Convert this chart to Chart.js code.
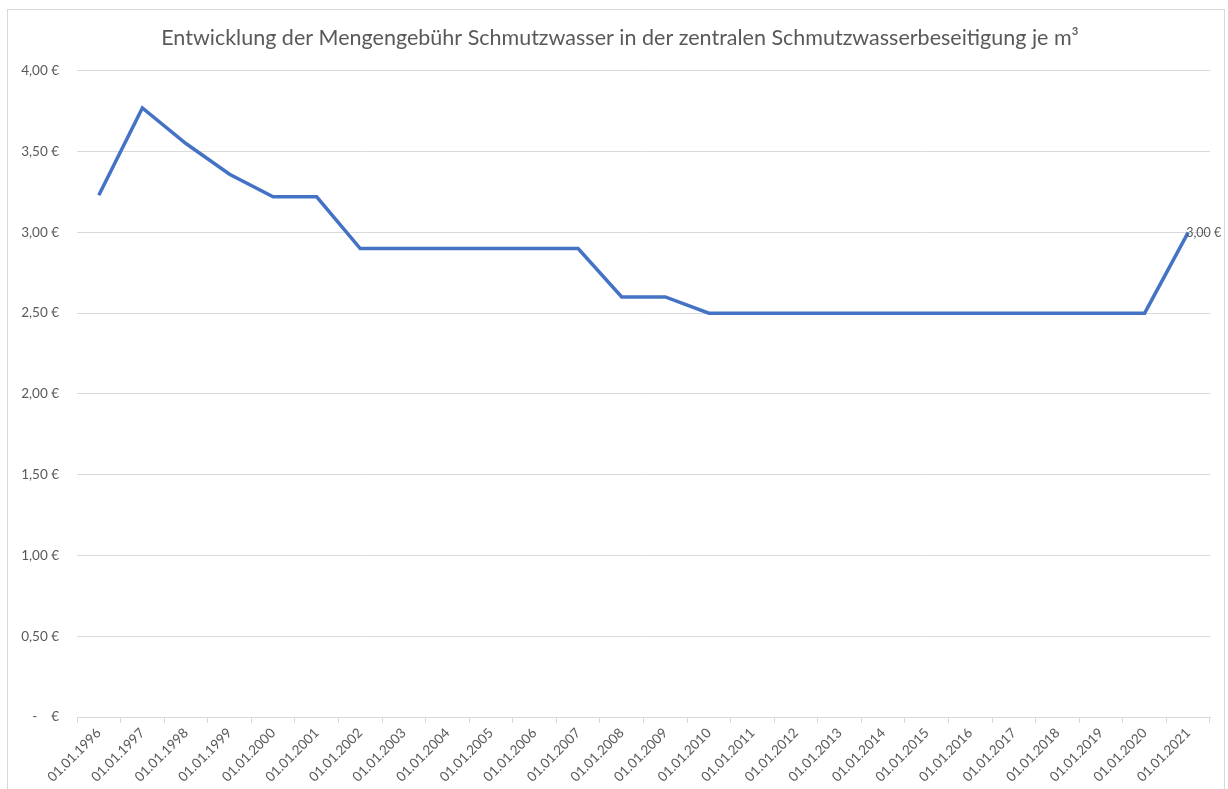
<!DOCTYPE html>
<html>
<head>
<meta charset="utf-8">
<script src="https://cdn.jsdelivr.net/npm/chart.js@4"></script>
<style>
  html, body { margin: 0; padding: 0; background: #fff; overflow: hidden; }
  #wrap { position: relative; width: 1228px; height: 789px; }
  #frame { position: absolute; left: 7px; top: 9px; width: 1218px; height: 800px; border: 1px solid #d9d9d9; box-sizing: border-box; }
  canvas { position: absolute; left: 0; top: 0; }
</style>
</head>
<body>
<div id="wrap">
  <div id="frame"></div>
  <canvas id="chart" width="1228" height="789"></canvas>
</div>
<script>
const years = [
  "01.01.1996", "01.01.1997", "01.01.1998", "01.01.1999", "01.01.2000",
  "01.01.2001", "01.01.2002", "01.01.2003", "01.01.2004", "01.01.2005",
  "01.01.2006", "01.01.2007", "01.01.2008", "01.01.2009", "01.01.2010",
  "01.01.2011", "01.01.2012", "01.01.2013", "01.01.2014", "01.01.2015",
  "01.01.2016", "01.01.2017", "01.01.2018", "01.01.2019", "01.01.2020",
  "01.01.2021",
];
const fee = [
  3.23, 3.77, 3.55, 3.36, 3.22,
  3.22, 2.90, 2.90, 2.90, 2.90,
  2.90, 2.90, 2.60, 2.60, 2.50,
  2.50, 2.50, 2.50, 2.50, 2.50,
  2.50, 2.50, 2.50, 2.50, 2.50,
  3.00,
];
const labelledIndex = [25];

const txt = "#595959";
const fontName = "Lato, 'Open Sans', sans-serif";

function euro(v) {
  if (v === 0) return "-    €";
  return v.toFixed(2).replace(".", ",") + " €";
}

// label at the last point, like the excel data label
const pointLabel = {
  id: "pointLabel",
  afterDatasetsDraw(chart) {
    const meta = chart.getDatasetMeta(0);
    const ctx = chart.ctx;
    ctx.save();
    ctx.font = "12.5px " + fontName;
    ctx.fillStyle = txt;
    ctx.textAlign = "left";
    ctx.textBaseline = "middle";
    labelledIndex.forEach((i) => {
      const p = meta.data[i];
      ctx.fillText(euro(fee[i]), p.x - 2, p.y + 1);
    });
    ctx.restore();
  },
};

// excel centres the title on the whole frame, not on the padded area
const titleShift = {
  id: "titleShift",
  afterLayout(chart) {
    if (chart.titleBlock) chart.titleBlock.left += 30;
  },
};

const chart = new Chart(document.getElementById("chart"), {
  type: "line",
  data: {
    labels: years,
    datasets: [
      {
        label: "Mengengebühr",
        data: fee,
        borderColor: "#4472C4",
        borderWidth: 3.5,
        pointRadius: 0,
        tension: 0,
        fill: false,
      },
    ],
  },
  options: {
    responsive: false,
    animation: false,
    layout: { padding: { left: 0, right: 18, top: 0, bottom: 0 } },
    plugins: {
      legend: { display: false },
      tooltip: { enabled: false },
      title: {
        display: true,
        text: "Entwicklung der Mengengebühr Schmutzwasser in der zentralen Schmutzwasserbeseitigung je m³",
        color: txt,
        font: { family: fontName, size: 21.5, weight: "normal" },
        padding: { top: 25, bottom: 20 },
      },
    },
    scales: {
      x: {
        offset: true,
        grid: {
          offset: true,
          drawOnChartArea: false,
          drawTicks: true,
          tickLength: 6,
          color: "#d9d9d9",
        },
        border: { color: "#d9d9d9" },
        ticks: {
          color: txt,
          font: { family: fontName, size: 13.5 },
          minRotation: 45,
          maxRotation: 45,
          autoSkip: false,
          padding: 2,
        },
        afterFit(scale) {
          scale.height = 72;
        },
      },
      y: {
        min: 0,
        max: 4,
        grid: { color: "#d9d9d9", drawTicks: false },
        border: { display: false },
        ticks: {
          stepSize: 0.5,
          color: txt,
          font: { family: fontName, size: 13.5 },
          padding: 18,
          callback: (v) => euro(v),
        },
        afterFit(scale) {
          scale.width = 77;
        },
      },
    },
  },
  plugins: [pointLabel, titleShift],
});
</script>
</body>
</html>
